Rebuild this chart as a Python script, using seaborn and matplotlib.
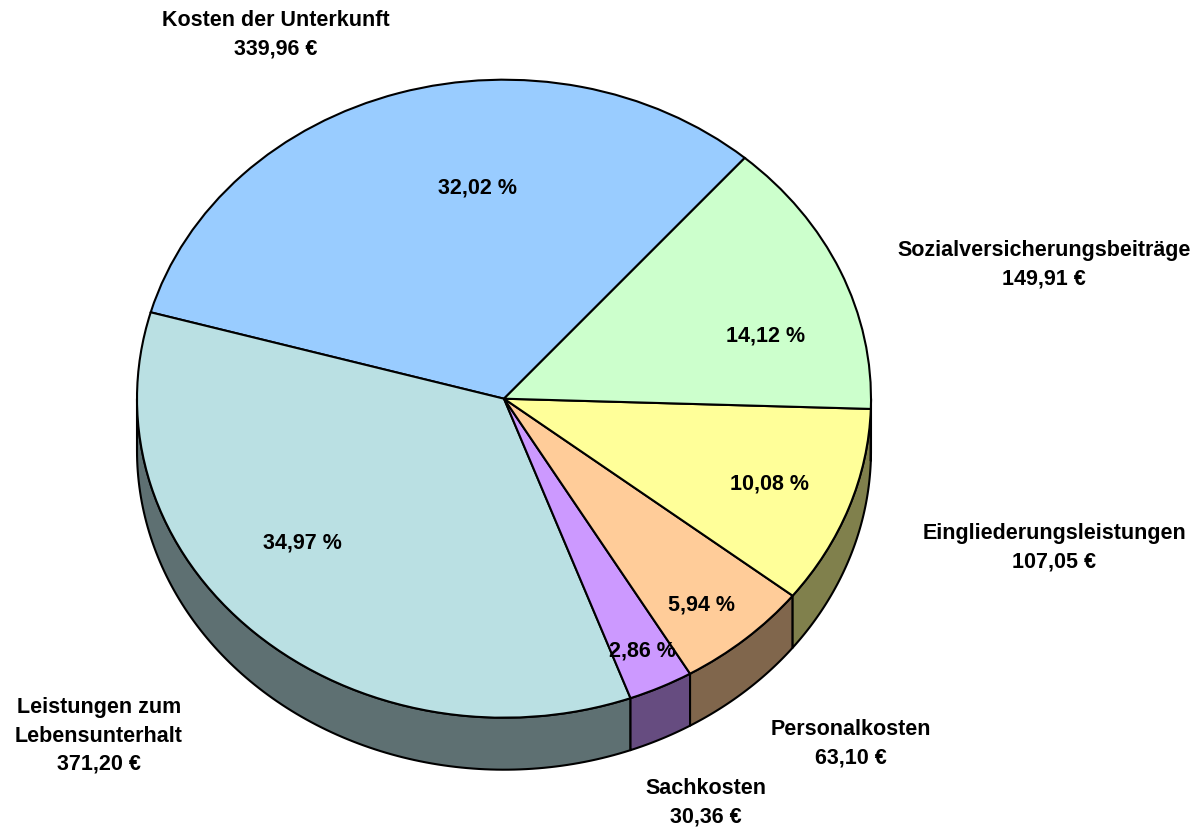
import numpy as np
import matplotlib
matplotlib.use("Agg")
import matplotlib.pyplot as plt
import seaborn as sns

categories = ["Kosten der Unterkunft", "Leistungen zum\nLebensunterhalt", "Sachkosten",
              "Personalkosten", "Eingliederungsleistungen", "Sozialversicherungsbeiträge"]
euro_values = [339.96, 371.20, 30.36, 63.10, 107.05, 149.91]
euro_labels = ["339,96 €", "371,20 €", "30,36 €", "63,10 €", "107,05 €", "149,91 €"]
percent_labels = ["32,02 %", "34,97 %", "2,86 %", "5,94 %", "10,08 %", "14,12 %"]
top_colors = ["#99CCFF", "#BAE0E3", "#CC99FF", "#FFCC99", "#FFFF99", "#CCFFCC"]
side_colors = ["#4C6680", "#5E7072", "#664C80", "#80664C", "#80804C", "#668066"]

# layout in reference pixels
W, H = 1202, 828
CX, CY, RX, RY, DEPTH = 504, 399.7, 367, 319, 52
name_pos = [(276, 35), (99, 736), (706, 803), (851, 744), (1054, 548), (1044, 265)]
pct_pos = [(478, 188), (302, 543), (642, 651), (702, 605), (769, 484), (766, 336)]

sns.set_theme(style="white")
plt.rcParams["font.family"] = ["Liberation Sans", "DejaVu Sans"]

fig = plt.figure(figsize=(W / 100, H / 100), dpi=100, facecolor="white")
ax = fig.add_axes([0, 0, 1, 1])

wedges, _ = ax.pie(euro_values, colors=top_colors, startangle=49, counterclock=True,
                   radius=1, wedgeprops=dict(edgecolor="black", linewidth=1.5, zorder=3))
ax.set_aspect("auto")
ax.set_xlim(-CX / RX, (W - CX) / RX)
ax.set_ylim(-(H - CY) / RY, CY / RY)
ax.axis("off")

d = DEPTH / RY
for w, col in zip(wedges, side_colors):
    t1, t2 = w.theta1, w.theta2
    # bring angles to the lower half of the ellipse, which shows the rim
    for shift in (0, -360):
        a, b = max(t1 + shift, 180), min(t2 + shift, 360)
        if b > a:
            th = np.radians(np.linspace(a, b, 120))
            x, y = np.cos(th), np.sin(th)
            ax.fill(np.r_[x, x[::-1]], np.r_[y, y[::-1] - d], facecolor=col,
                    edgecolor="black", linewidth=1.5, zorder=2, joinstyle="round")


def to_data(px, py):
    return (px - CX) / RX, (CY - py) / RY


font = dict(fontsize=15.5, fontweight="bold", color="black", ha="center", va="center",
            linespacing=1.46, zorder=5)
for cat, eur, pos in zip(categories, euro_labels, name_pos):
    ax.text(*to_data(*pos), f"{cat}\n{eur}", **font)
for pct, pos in zip(percent_labels, pct_pos):
    ax.text(*to_data(*pos), pct, **font)

fig.savefig("out.png", dpi=100, facecolor="white")
